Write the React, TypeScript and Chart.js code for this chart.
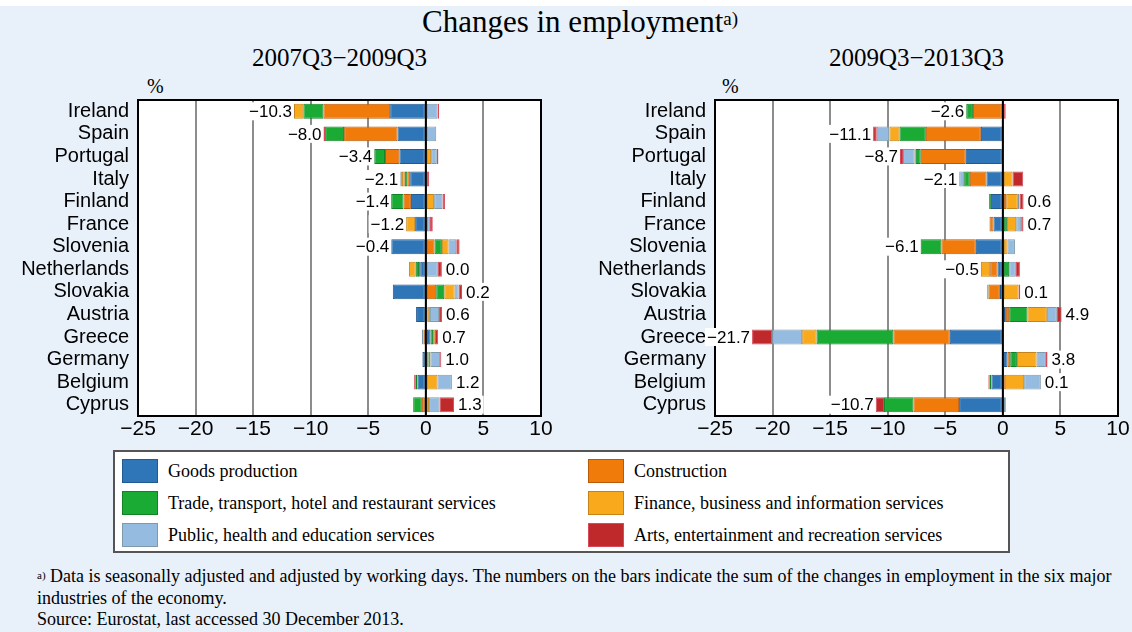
import React, { useEffect, useRef } from "react";
import { Chart, registerables } from "chart.js";

Chart.register(...registerables);

// ---------- data ----------
const countries = [
  "Ireland", "Spain", "Portugal", "Italy", "Finland", "France", "Slovenia",
  "Netherlands", "Slovakia", "Austria", "Greece", "Germany", "Belgium", "Cyprus",
];

const seriesNames = [
  "Goods production",
  "Construction",
  "Trade, transport, hotel and restaurant services",
  "Finance, business and information services",
  "Public, health and education services",
  "Arts, entertainment and recreation services",
];

const seriesColors = ["#2f76b8", "#f07a0a", "#1aab34", "#f9a91c", "#95bce0", "#c0292b"];
const seriesBorders = ["#225a8f", "#b95a08", "#128226", "#c4841a", "#7e9aa8", "#d64a5a"];

// 2007Q3–2009Q3
const goods0709 = [-3.1, -2.46, -2.3, -1.36, -1.3, -0.93, -3.0, -0.49, -2.87, -0.85, 0.4, -0.3, -0.72, 0];
const construction0709 = [-5.8, -4.64, -1.25, -0.25, -0.64, 0, 0.75, -0.1, 0.9, 0.15, -0.2, 0.12, 0, -0.35];
const trade0709 = [-1.74, -1.65, -0.93, -0.22, -1.07, 0.1, 0.64, -0.29, 0.7, 0.05, 0.23, 0.12, -0.15, -0.75];
const finance0709 = [-0.81, 0, 0.46, -0.25, 0.72, -0.78, 0.58, -0.58, 0.9, 0.15, 0.15, 0.15, 1.01, 0.28];
const public0709 = [1.01, 0.9, 0.49, -0.14, 0.72, 0.25, 0.67, 1.04, 0.35, 0.8, -0.15, 0.85, 1.25, 0.9];
const arts0709 = [0.14, -0.14, 0.14, 0.29, 0.23, 0.25, 0.29, 0.35, 0.29, 0.26, 0.29, 0.1, -0.15, 1.27];
const totals0709 = [-10.3, -8.0, -3.4, -2.1, -1.4, -1.2, -0.4, 0.0, 0.2, 0.6, 0.7, 1.0, 1.2, 1.3];

// 2009Q3–2013Q3
const goods0913 = [0, -1.91, -3.22, -1.42, -1.04, -0.81, -2.35, -0.46, -0.26, 0.26, -4.61, 0.41, -0.99, -3.8];
const construction0913 = [-2.6, -4.78, -3.91, -1.45, 0.29, -0.35, -2.99, -0.64, -0.99, 0.29, -4.9, 0.23, 0.17, -3.97];
const trade0913 = [-0.58, -2.29, -0.43, -0.49, -0.15, 0.35, -1.8, 0.55, -0.1, 1.59, -6.67, 0.58, -0.15, -2.55];
const finance0913 = [0.05, -0.87, -0.1, 0.84, 1.01, 0.81, 0.41, -0.81, 1.36, 1.68, -1.25, 1.71, 1.68, 0];
const public0913 = [0, -1.1, -1.01, -0.43, 0.15, 0.43, 0.64, 0.58, 0, 0.87, -2.61, 0.81, 1.45, 0.26];
const arts0913 = [0.2, -0.32, -0.26, 0.93, 0.35, 0.2, 0, 0.35, 0.15, 0.41, -1.74, 0.14, -0.12, -0.72];
const totals0913 = [-2.6, -11.1, -8.7, -2.1, 0.6, 0.7, -6.1, -0.5, 0.1, 4.9, -21.7, 3.8, 0.1, -10.7];

const xMin = -25;
const xMax = 10;
const xStep = 5;

// ---------- helpers ----------
const SANS = '"Liberation Sans", Arial, Helvetica, sans-serif';
const SERIF = '"Liberation Serif", "Times New Roman", Times, serif';

function fmt(v: number): string {
  const s = Math.abs(v).toFixed(1);
  return v < 0 ? "\u2212" + s : s;
}

const panelPlugin = {
  id: "panel",
  beforeDraw(chart: any) {
    const { ctx, chartArea: a } = chart;
    ctx.save();
    ctx.fillStyle = "#ffffff";
    ctx.fillRect(a.left, a.top, a.right - a.left, a.bottom - a.top);
    ctx.restore();
  },
  afterDatasetsDraw(chart: any, _args: any, opts: any) {
    const { ctx, chartArea: a, scales } = chart;
    const x = scales.x;
    const y = scales.y;
    ctx.save();
    // zero line
    const x0 = x.getPixelForValue(0);
    ctx.strokeStyle = "#000";
    ctx.lineWidth = 2;
    ctx.beginPath();
    ctx.moveTo(x0, a.top);
    ctx.lineTo(x0, a.bottom);
    ctx.stroke();
    // frame
    ctx.strokeRect(a.left, a.top, a.right - a.left, a.bottom - a.top);
    // total labels
    const totals: number[] = opts.totals || [];
    ctx.font = "17px " + SANS;
    ctx.textBaseline = "middle";
    const ds = chart.data.datasets;
    for (let i = 0; i < totals.length; i++) {
      let neg = 0;
      let pos = 0;
      for (const d of ds) {
        const v = d.data[i] as number;
        if (v < 0) neg += v;
        else pos += v;
      }
      const yy = y.getPixelForValue(i);
      const txt = fmt(totals[i]);
      const w = ctx.measureText(txt).width;
      if (totals[i] < 0) {
        const xe = x.getPixelForValue(neg) - 2;
        ctx.fillStyle = "#fff";
        ctx.fillRect(xe - w - 2, yy - 9, w + 3, 18);
        ctx.fillStyle = "#000";
        ctx.textAlign = "right";
        ctx.fillText(txt, xe, yy + 1);
      } else {
        const xs = x.getPixelForValue(pos) + 4;
        ctx.fillStyle = "#fff";
        ctx.fillRect(xs - 1, yy - 9, w + 3, 18);
        ctx.fillStyle = "#000";
        ctx.textAlign = "left";
        ctx.fillText(txt, xs, yy + 1);
      }
    }
    ctx.restore();
  },
};

function buildChart(canvas: HTMLCanvasElement, series: number[][], totals: number[], padRight: number) {
  return new Chart(canvas, {
    type: "bar",
    data: {
      labels: countries,
      datasets: series.map((d, k) => ({
        label: seriesNames[k],
        data: d,
        backgroundColor: seriesColors[k],
        borderColor: seriesBorders[k],
        borderWidth: 1,
        borderSkipped: false,
        categoryPercentage: 1,
        barPercentage: 0.66,
      })),
    },
    options: {
      indexAxis: "y",
      animation: false,
      responsive: false,
      devicePixelRatio: 1,
      layout: { padding: { top: 0, right: padRight, left: 0, bottom: 0 } },
      plugins: {
        legend: { display: false },
        tooltip: { enabled: false },
        title: { display: false },
        panel: { totals },
      } as any,
      scales: {
        x: {
          type: "linear",
          stacked: true,
          min: xMin,
          max: xMax,
          ticks: {
            stepSize: xStep,
            color: "#000",
            font: { family: SANS, size: 21 },
            padding: 1,
            callback: (v: any) => (Number(v) < 0 ? "\u2212" + Math.abs(Number(v)) : String(v)),
          },
          grid: { color: "#8c8c8c", lineWidth: 2, drawTicks: false },
          border: { display: false },
          afterFit: (s: any) => {
            s.height = 32;
          },
        },
        y: {
          type: "category",
          stacked: true,
          ticks: { color: "#000", font: { family: SANS, size: 20 }, padding: 9, autoSkip: false },
          grid: { display: false, drawTicks: false },
          border: { display: false },
          afterFit: (s: any) => {
            s.width = 138;
          },
        },
      },
    } as any,
    plugins: [panelPlugin as any],
  });
}

const CANVAS_TOP = 79;
const CANVAS_H = 369;

function Panel({ series, totals, left, padRight, width }: any) {
  const ref = useRef<HTMLCanvasElement | null>(null);
  useEffect(() => {
    if (!ref.current) return;
    const c = buildChart(ref.current, series, totals, padRight);
    return () => c.destroy();
  }, []);
  return (
    <canvas
      ref={ref}
      width={width}
      height={CANVAS_H}
      style={{ position: "absolute", left, top: CANVAS_TOP, width, height: CANVAS_H }}
    />
  );
}

const legendPos = [
  { x: 122, y: 459 },
  { x: 588, y: 459 },
  { x: 122, y: 491 },
  { x: 588, y: 491 },
  { x: 122, y: 523 },
  { x: 588, y: 523 },
];

export default function App() {
  const seriesA = [goods0709, construction0709, trade0709, finance0709, public0709, arts0709];
  const seriesB = [goods0913, construction0913, trade0913, finance0913, public0913, arts0913];
  return (
    <div
      style={{
        position: "absolute",
        left: 0,
        top: 0,
        width: 1132,
        height: 632,
        background: "#ffffff",
        overflow: "hidden",
        fontFamily: SERIF,
        color: "#000",
      }}
    >
      <div style={{ position: "absolute", left: 0, top: 6, width: 1132, height: 626, background: "#e8f0fa" }} />
      <div style={{ position: "absolute", left: 422, top: 4, fontSize: 31, lineHeight: "36px", whiteSpace: "nowrap" }}>
        Changes in employment<sup style={{ fontSize: 19, verticalAlign: "top", position: "relative", top: -3 }}>a)</sup>
      </div>
      <div style={{ position: "absolute", left: 138, top: 44, width: 403, textAlign: "center", fontSize: 25, lineHeight: "28px" }}>
        2007Q3−2009Q3
      </div>
      <div style={{ position: "absolute", left: 715, top: 44, width: 403, textAlign: "center", fontSize: 25, lineHeight: "28px" }}>
        2009Q3−2013Q3
      </div>
      <div style={{ position: "absolute", left: 147, top: 75, fontSize: 20, lineHeight: "22px" }}>%</div>
      <div style={{ position: "absolute", left: 722, top: 75, fontSize: 20, lineHeight: "22px" }}>%</div>

      <Panel series={seriesA} totals={totals0709} left={0} padRight={19} width={560} />
      <Panel series={seriesB} totals={totals0913} left={577} padRight={14} width={555} />

      <div
        style={{
          position: "absolute",
          left: 113,
          top: 450,
          width: 893,
          height: 99,
          border: "2px solid #555",
          background: "#fff",
        }}
      />
      {seriesNames.map((n, k) => (
        <React.Fragment key={n}>
          <div
            style={{
              position: "absolute",
              left: legendPos[k].x,
              top: legendPos[k].y,
              width: 34,
              height: 22,
              background: seriesColors[k],
              border: "1px solid " + seriesBorders[k],
            }}
          />
          <div
            style={{
              position: "absolute",
              left: legendPos[k].x + 46,
              top: legendPos[k].y + 1,
              fontSize: 18,
              lineHeight: "22px",
              whiteSpace: "nowrap",
            }}
          >
            {n}
          </div>
        </React.Fragment>
      ))}

      <div style={{ position: "absolute", left: 37, top: 566, fontSize: 18, lineHeight: "21.5px", whiteSpace: "nowrap" }}>
        <sup style={{ fontSize: 11, verticalAlign: "top", position: "relative", top: -1 }}>a)</sup> Data is seasonally adjusted and adjusted by working days. The numbers on the bars indicate the sum of the changes in employment in the six major
        <br />
        industries of the economy.
        <br />
        Source: Eurostat, last accessed 30 December 2013.
      </div>
    </div>
  );
}
